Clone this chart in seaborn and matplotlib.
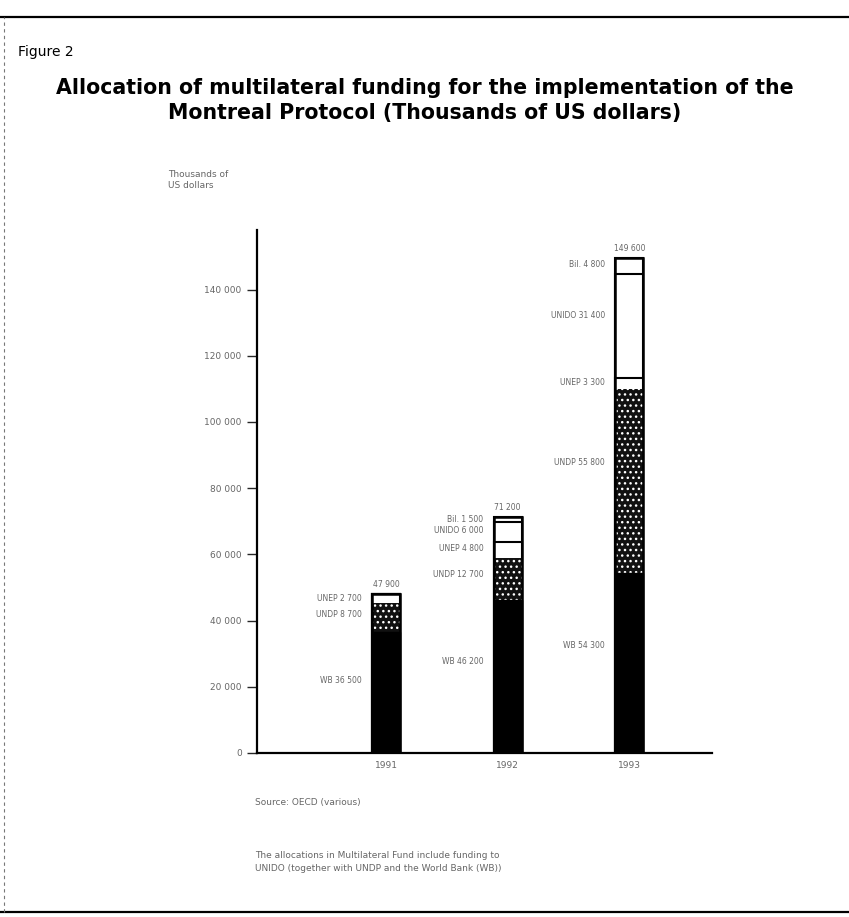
import numpy as np
import pandas as pd
import seaborn as sns
import matplotlib.pyplot as plt
from matplotlib.lines import Line2D

# values (thousands of US dollars)
years = ["1991", "1992", "1993"]
wb = [36500, 46200, 54300]
undp = [8700, 12700, 55800]
unep = [2700, 4800, 3300]
unido = [0, 6000, 31400]
bilateral = [0, 1500, 4800]
yticks = [0, 20000, 40000, 60000, 80000, 100000, 120000, 140000]

sns.set_style("ticks")
plt.rcParams['font.family'] = ['DejaVu Sans']
plt.rcParams['hatch.linewidth'] = 1.0
plt.rcParams['text.color'] = 'black'

df = pd.DataFrame({"year": years, "wb": wb, "undp": undp, "unep": unep,
                   "unido": unido, "bilateral": bilateral})
df["c1"] = df["wb"]
df["c2"] = df["c1"] + df["undp"]
df["c3"] = df["c2"] + df["unep"]
df["c4"] = df["c3"] + df["unido"]
df["c5"] = df["c4"] + df["bilateral"]

fig = plt.figure(figsize=(8.49, 9.17), dpi=100)
ax = fig.add_axes([257/849, 1 - 753/917, (712-257)/849, (753-230)/917])

w = 0.23
# stacked bars drawn from the top layer down
sns.barplot(data=df, x="year", y="c5", order=years, color="white", width=w,
            edgecolor="black", linewidth=1.5, saturation=1, ax=ax)
sns.barplot(data=df, x="year", y="c4", order=years, color="white", width=w,
            edgecolor="black", linewidth=1.5, saturation=1, ax=ax)
sns.barplot(data=df, x="year", y="c3", order=years, color="white", width=w,
            edgecolor="black", linewidth=1.5, saturation=1, ax=ax)
sns.barplot(data=df, x="year", y="c2", order=years, color="#111111", width=w,
            edgecolor="white", linewidth=0, hatch="...", saturation=1, ax=ax)
sns.barplot(data=df, x="year", y="c1", order=years, color="black", width=w,
            edgecolor="black", linewidth=1, saturation=1, ax=ax)
sns.barplot(data=df, x="year", y="c5", order=years, fill=False, width=w,
            edgecolor="black", linewidth=1.8, ax=ax)

ax.set_xlim(-1.06, 2.68)
ax.set_ylim(0, 158000)
ax.set_yticks(yticks)
ax.set_yticklabels([f"{v:,}".replace(",", " ") for v in yticks])
ax.tick_params(axis="y", length=7, width=1, pad=4, labelsize=6.5, labelcolor="#666666")
ax.tick_params(axis="x", length=0, pad=6, labelsize=6.5, labelcolor="#666666")
ax.set_xlabel("")
ax.set_ylabel("")
sns.despine(ax=ax)
for s in ["left", "bottom"]:
    ax.spines[s].set_linewidth(1.6)
    ax.spines[s].set_color("black")

# segment labels to the left of each bar
names = ["WB", "UNDP", "UNEP", "UNIDO", "Bil."]
layers = [wb, undp, unep, unido, bilateral]
for i in range(len(years)):
    base = 0
    for name, vals in zip(names, layers):
        v = vals[i]
        if v > 0:
            ax.text(i - 0.2, base + v * 0.6, f"{name} {v:,}".replace(",", " "),
                    ha="right", va="center", fontsize=5.5, color="#666666")
        base += v
    ax.text(i, base + 1500, f"{base:,}".replace(",", " "), ha="center", va="bottom",
            fontsize=5.5, color="#666666")

fig.text(168/849, 1 - 180/917, "Thousands of\nUS dollars", fontsize=6.5,
         color="#666666", va="center", ha="left")

fig.text(18/849, 1 - 52/917, "Figure 2", fontsize=10, va="center", ha="left",
         color="black")
fig.text(425/849, 1 - 88/917, "Allocation of multilateral funding for the implementation of the",
         fontsize=14.8, fontweight="bold", ha="center", va="center", color="black")
fig.text(425/849, 1 - 113/917, "Montreal Protocol (Thousands of US dollars)",
         fontsize=14.8, fontweight="bold", ha="center", va="center", color="black")

fig.text(255/849, 1 - 803/917, "Source: OECD (various)", fontsize=6.5,
         color="#666666", va="center", ha="left")
fig.text(255/849, 1 - 862/917,
         "The allocations in Multilateral Fund include funding to\n"
         "UNIDO (together with UNDP and the World Bank (WB))",
         fontsize=6.5, color="#666666", va="center", ha="left", linespacing=1.6)

# scanned page frame
fig.add_artist(Line2D([0, 1], [1 - 17/917, 1 - 17/917], color="black", lw=1.6))
fig.add_artist(Line2D([0, 1], [1 - 912/917, 1 - 912/917], color="black", lw=1.6))
fig.add_artist(Line2D([4/849, 4/849], [1 - 912/917, 1 - 17/917], color="#777777",
                      lw=0.8, ls=(0, (3, 3))))

fig.savefig("out.png", dpi=100)
